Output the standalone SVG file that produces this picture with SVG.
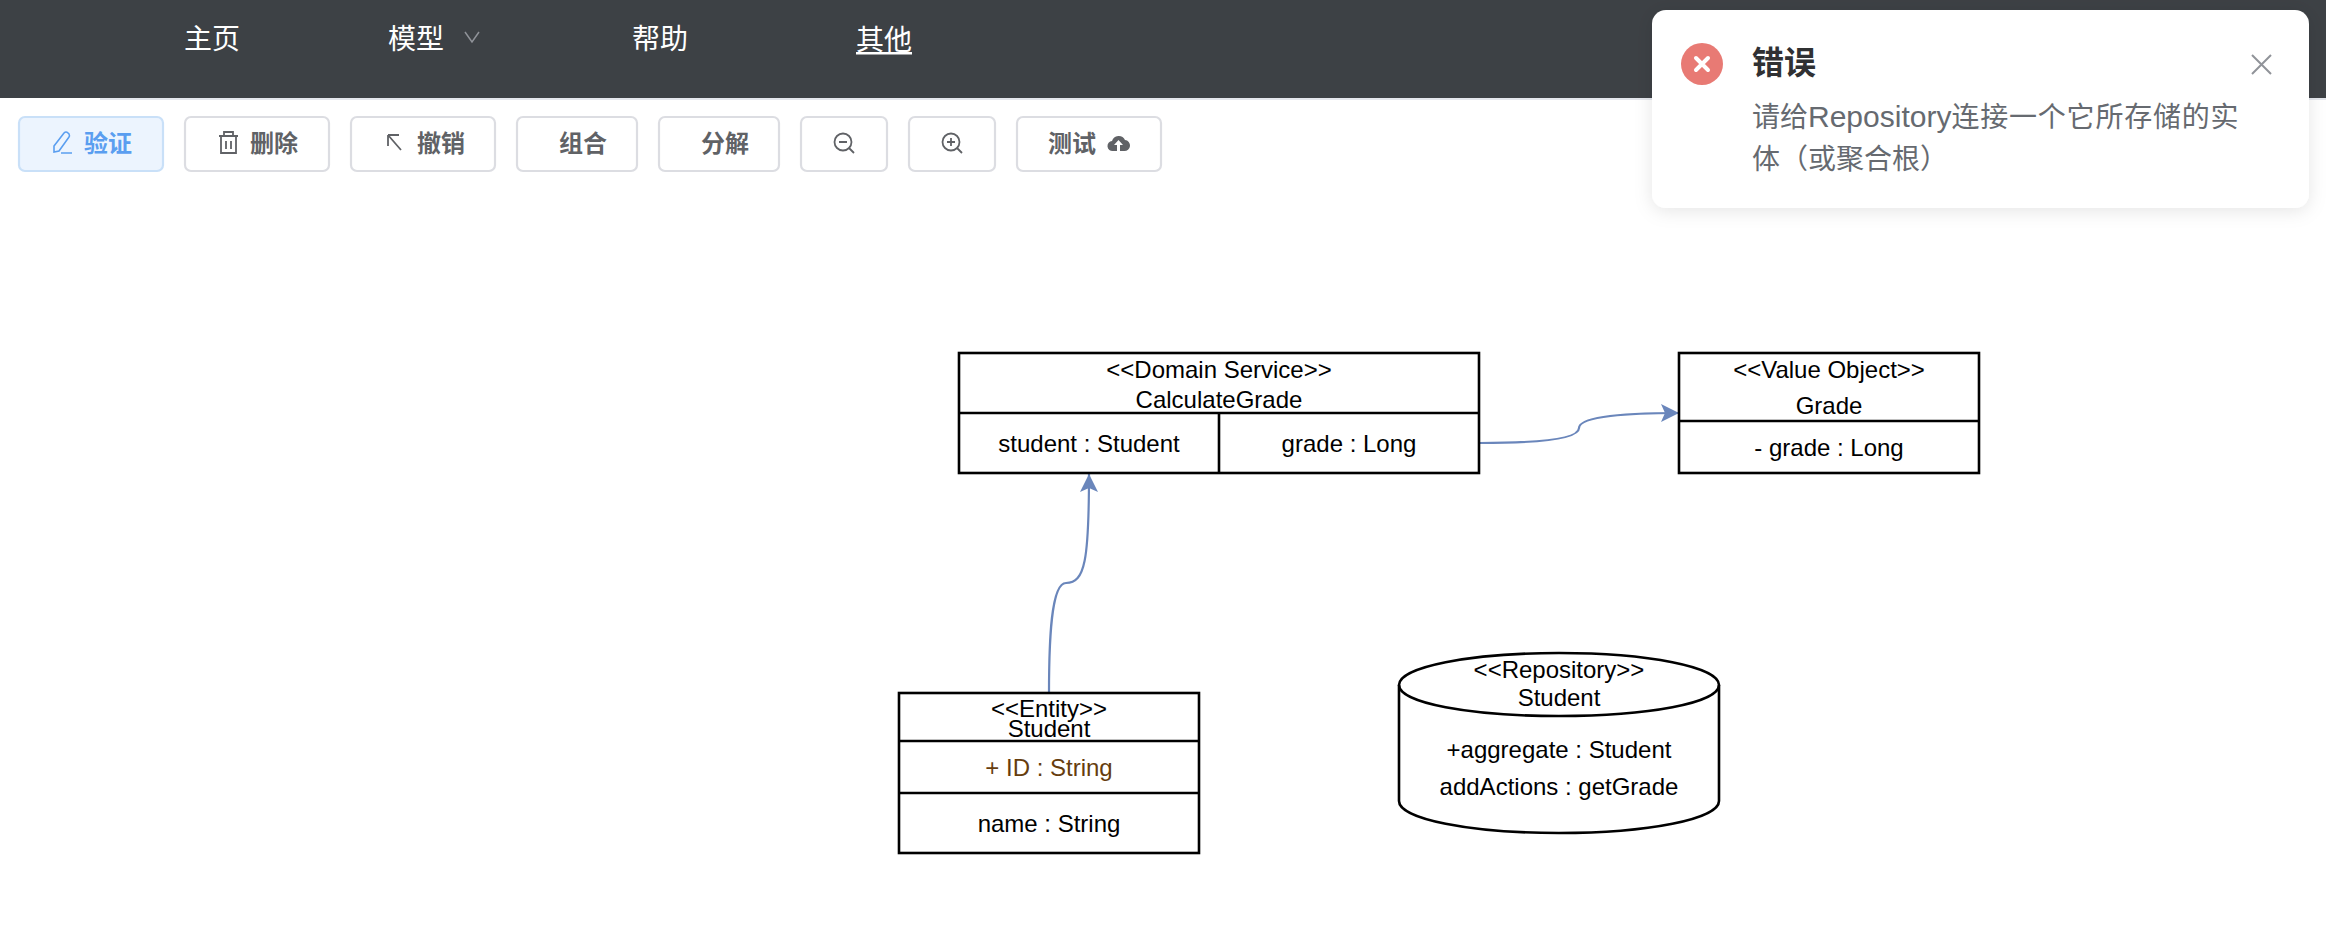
<svg xmlns="http://www.w3.org/2000/svg" width="2326" height="950" viewBox="0 0 2326 950">
<style>
.cjk{font-family:"Noto Sans CJK SC","Noto Sans",sans-serif}
.nav{font-size:28px;fill:#fff;text-anchor:middle}
.btn{fill:#fff;stroke:#dcdde2;stroke-width:2.2}
.bt{font-size:24px;font-weight:700;fill:#606266;text-anchor:middle}
.ico{fill:none;stroke:#606266;stroke-width:1.8}
.box{fill:#fff;stroke:#000;stroke-width:2.6}
.ln{fill:none;stroke:#000;stroke-width:2.6}
.t{font-family:"Liberation Sans",Arial,sans-serif;font-size:24px;fill:#000;text-anchor:middle}
.edge{fill:none;stroke:#6a86bb;stroke-width:2.2}
.lat{font-family:"Liberation Sans",Arial,sans-serif;font-size:30px}
</style>
<defs>
<marker id="arrow" markerUnits="userSpaceOnUse" markerWidth="20" markerHeight="20" refX="18" refY="10" orient="auto"><path d="M0 1 L18 10 L0 19 L4 10 Z" fill="#6a86bb"/></marker>
<filter id="sh" x="-5%" y="-15%" width="110%" height="135%"><feDropShadow dx="0" dy="3" stdDeviation="9" flood-color="#000" flood-opacity=".1"/></filter>
</defs>
<rect width="2326" height="950" fill="#fff"/>
<g id="navbar">
<rect x="100" y="98" width="2226" height="2" fill="#e4e7ed"/>
<rect width="2326" height="98" fill="#3d4145"/>
<text class="cjk nav" x="212" y="49">主页</text>
<text class="cjk nav" x="416" y="49">模型</text>
<path d="M465 32 L472 42 L479 32" fill="none" stroke="#909399" stroke-width="1.5"/>
<text class="cjk nav" x="660" y="49">帮助</text>
<text class="cjk nav" x="884" y="50">其他</text>
<rect x="856" y="52" width="56" height="2.5" fill="#fff"/>
</g>
<g id="toolbar">
<g id="btn-verify"><rect x="19" y="117" width="144" height="54" rx="6" fill="#ecf4fe" stroke="#c9e0f8" stroke-width="2.2"/>
<path d="M54 146 L64 133 Q66 131 68 133 L69 134 Q70 136 69 137 L59 151 L54 152 Z M61 153 H72" fill="none" stroke="#5a9ef0" stroke-width="1.6"/>
<text class="cjk bt" x="108" y="152" style="fill:#5a9ef0">验证</text></g>
<g id="btn-delete"><rect class="btn" x="185" y="117" width="144" height="54" rx="6"/>
<path class="ico" d="M219 136 H238 M224 136 V132 H233 V136 M221 136 V153 H236 V136 M226 141 V149 M231 141 V149"/>
<text class="cjk bt" x="274" y="152">删除</text></g>
<g id="btn-undo"><rect class="btn" x="351" y="117" width="144" height="54" rx="6"/>
<path class="ico" d="M388 135 L401 150 M388 135 V146 M388 135 H399"/>
<text class="cjk bt" x="441" y="152">撤销</text></g>
<g id="btn-group"><rect class="btn" x="517" y="117" width="120" height="54" rx="6"/>
<text class="cjk bt" x="583" y="152">组合</text></g>
<g id="btn-split"><rect class="btn" x="659" y="117" width="120" height="54" rx="6"/>
<text class="cjk bt" x="725" y="152">分解</text></g>
<g id="btn-zoomout"><rect class="btn" x="801" y="117" width="86" height="54" rx="6"/>
<circle class="ico" cx="843" cy="142" r="8.500"/><path class="ico" d="M839 142 H847 M849 148 L854 153"/></g>
<g id="btn-zoomin"><rect class="btn" x="909" y="117" width="86" height="54" rx="6"/>
<circle class="ico" cx="951" cy="142" r="8.500"/><path class="ico" d="M947 142 H955 M951 138 V146 M957 148 L962 153"/></g>
<g id="btn-test"><rect class="btn" x="1017" y="117" width="144" height="54" rx="6"/>
<text class="cjk bt" x="1072" y="152">测试</text>
<path d="M1113 151 a5 5 0 0 1 -1 -10 a7 7 0 0 1 13 -1 a5.500 5.500 0 0 1 -1 11 Z" fill="#606266"/>
<path d="M1114 145 L1118.500 140 L1123 145 H1120 V151 H1117 V145 Z" fill="#fff"/></g>
</g>
<g id="connectors">
<path class="edge" d="M1049 693 C1049 640 1051 583 1066 583 C1085 583 1089 560 1089 474" marker-end="url(#arrow)"/>
<path class="edge" d="M1480 443 C1530 443 1579 440 1579 428 C1579 416 1630 413 1679 413" marker-end="url(#arrow)"/>
</g>
<g id="node-calculate-grade">
<rect class="box" x="959" y="353" width="520" height="120"/>
<path class="ln" d="M959 413 H1479 M1219 413 V473"/>
<text class="t" x="1219" y="378">&lt;&lt;Domain Service&gt;&gt;</text>
<text class="t" x="1219" y="408">CalculateGrade</text>
<text class="t" x="1089" y="452">student : Student</text>
<text class="t" x="1349" y="452">grade : Long</text>
</g>
<g id="node-grade">
<rect class="box" x="1679" y="353" width="300" height="120"/>
<path class="ln" d="M1679 421 H1979"/>
<text class="t" x="1829" y="378">&lt;&lt;Value Object&gt;&gt;</text>
<text class="t" x="1829" y="414">Grade</text>
<text class="t" x="1829" y="456">- grade : Long</text>
</g>
<g id="node-student">
<rect class="box" x="899" y="693" width="300" height="160"/>
<path class="ln" d="M899 741 H1199 M899 793 H1199"/>
<text class="t" x="1049" y="717">&lt;&lt;Entity&gt;&gt;</text>
<text class="t" x="1049" y="737">Student</text>
<text class="t" x="1049" y="776" style="fill:#663d0e">+ ID : String</text>
<text class="t" x="1049" y="832">name : String</text>
</g>
<g id="node-repository">
<path class="box" d="M1399 685 C1399 667 1470 653 1559 653 C1648 653 1719 667 1719 685 V801 C1719 819 1648 833 1559 833 C1470 833 1399 819 1399 801 Z"/>
<path class="ln" d="M1399 685 C1399 703 1470 716 1559 716 C1648 716 1719 703 1719 685"/>
<text class="t" x="1559" y="678">&lt;&lt;Repository&gt;&gt;</text>
<text class="t" x="1559" y="706">Student</text>
<text class="t" x="1559" y="758">+aggregate : Student</text>
<text class="t" x="1559" y="795">addActions : getGrade</text>
</g>
<g id="toast">
<rect x="1652" y="10" width="657" height="198" rx="14" fill="#fff" filter="url(#sh)"/>
<circle cx="1702" cy="64" r="21" fill="#e87a74"/>
<path d="M1696 58 L1708 70 M1708 58 L1696 70" stroke="#fff" stroke-width="4" stroke-linecap="round"/>
<text class="cjk" x="1752" y="74" font-size="32" font-weight="700" fill="#303133">错误</text>
<text class="cjk" x="1752" y="127" font-size="28" fill="#666a70">请给<tspan class="lat">Repository</tspan><tspan letter-spacing="0.8">连接一个它所存储的实</tspan></text>
<text class="cjk" x="1752" y="169" font-size="28" fill="#666a70">体（或聚合根）</text>
<path d="M2252 55 L2271 74 M2271 55 L2252 74" stroke="#909399" stroke-width="2"/>
</g>
</svg>
